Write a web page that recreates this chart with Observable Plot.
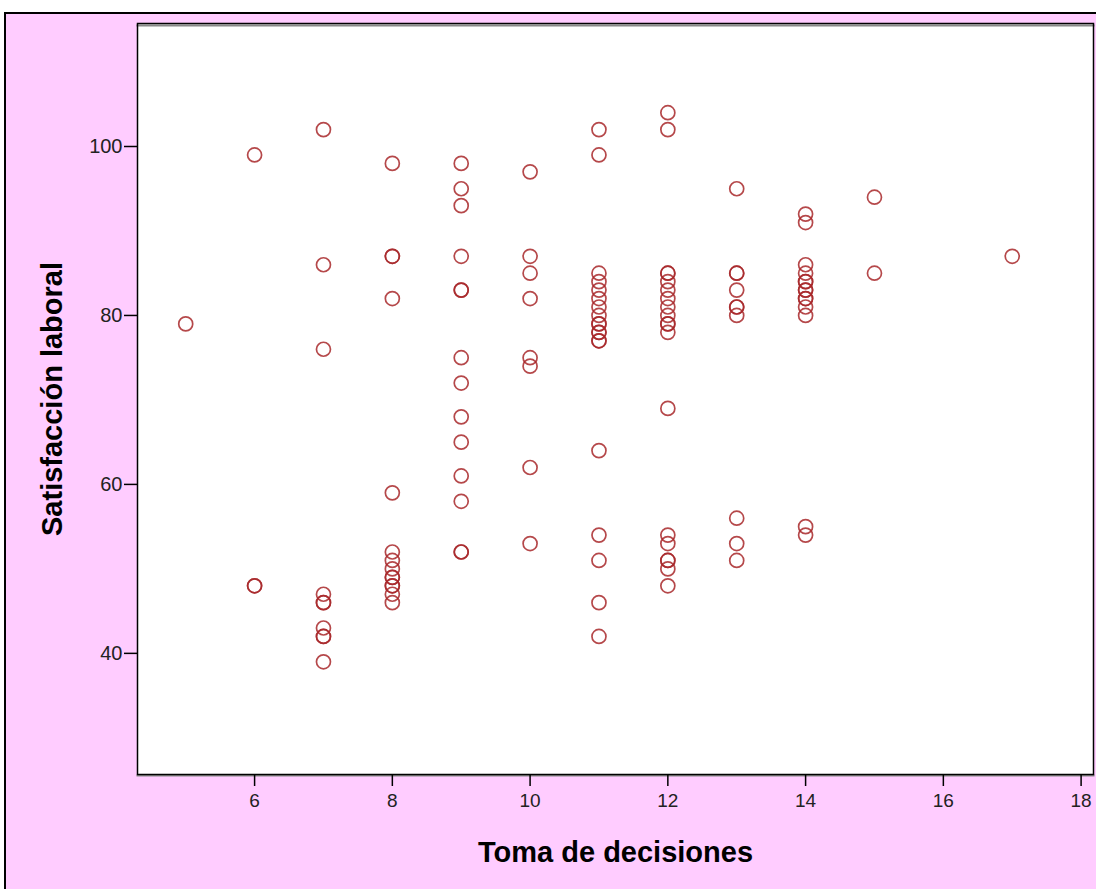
<!DOCTYPE html>
<html>
<head>
<meta charset="utf-8">
<script src="https://cdn.jsdelivr.net/npm/d3@7"></script>
<script src="https://cdn.jsdelivr.net/npm/@observablehq/plot@0.6"></script>
<style>
  html, body { margin: 0; padding: 0; background: #ffffff; }
  #wrap {
    position: absolute; left: 4px; top: 12px;
    width: 1092px; height: 877px;
    background: #ffccff;
    border-top: 2px solid #000; border-left: 2px solid #000;
    overflow: hidden;
  }
  #wrap svg { display: block; }
</style>
</head>
<body>
<div id="wrap"></div>
<script>
// Toma de decisiones (x) values, one group per x with its Satisfacción laboral (y) values
const xGroups = [5, 6, 7, 8, 9, 10, 11, 12, 13, 14, 15, 17];
const yByGroup = [
  [79],
  [99, 48, 48],
  [102, 86, 76, 47, 46, 46, 43, 42, 42, 39],
  [98, 87, 87, 82, 59, 52, 51, 50, 49, 49, 48, 48, 47, 46],
  [98, 95, 93, 87, 83, 83, 75, 72, 68, 65, 61, 58, 52, 52],
  [97, 87, 85, 82, 75, 74, 62, 53],
  [102, 99, 85, 84, 83, 82, 81, 80, 79, 79, 78, 78, 77, 77, 64, 54, 51, 46, 42],
  [104, 102, 85, 85, 84, 83, 82, 81, 80, 79, 79, 78, 69, 54, 53, 51, 51, 50, 48],
  [95, 85, 85, 83, 81, 81, 80, 56, 53, 51],
  [92, 91, 86, 85, 84, 84, 83, 83, 82, 82, 81, 80, 55, 54],
  [94, 85],
  [87]
];
const xTicks = [6, 8, 10, 12, 14, 16, 18];
const yTicks = [40, 60, 80, 100];
const xTitle = "Toma de decisiones";
const yTitle = "Satisfacción laboral";

const data = xGroups.flatMap((x, i) => yByGroup[i].map(y => ({x, y})));

const chart = Plot.plot({
  width: 1090,
  height: 875,
  marginLeft: 131,
  marginRight: 3,
  marginTop: 9,
  marginBottom: 115,
  style: {background: "transparent", fontFamily: "'Liberation Sans', Arial, sans-serif", color: "#000"},
  x: {domain: [4.30, 18.18]},
  y: {domain: [25.66, 114.56]},
  marks: [
    Plot.frame({fill: "#ffffff", stroke: "none"}),
    Plot.frame({anchor: "top", stroke: "#888", strokeWidth: 2, dy: 2}),
    Plot.frame({anchor: "bottom", stroke: "#888", strokeWidth: 2, dy: 1}),
    Plot.frame({stroke: "#000", strokeWidth: 1.5}),
    Plot.axisX({
      ticks: xTicks, tickSize: 12, tickPadding: 7, tickFormat: d => String(d),
      fontSize: 19, stroke: "#000", strokeWidth: 1.5, fill: "#222",
      label: xTitle, labelAnchor: "center", labelArrow: "none", labelOffset: 87
    }),
    Plot.axisY({
      ticks: yTicks, tickSize: 13, tickPadding: 2, tickFormat: d => String(d),
      fontSize: 20, stroke: "#000", strokeWidth: 1.5, fill: "#222",
      label: yTitle, labelAnchor: "center", labelArrow: "none", labelOffset: 96
    }),
    Plot.dot(data, {x: "x", y: "y", r: 7, stroke: "#a8282a", strokeWidth: 1.7, fill: "none", strokeOpacity: 0.85})
  ]
});

// Bold, larger axis titles
chart.querySelectorAll("g[aria-label='x-axis label'] text, g[aria-label='y-axis label'] text").forEach(t => {
  t.setAttribute("font-size", 29);
  t.setAttribute("font-weight", "bold");
  t.setAttribute("fill", "#000");
});
document.getElementById("wrap").appendChild(chart);
</script>
</body>
</html>
